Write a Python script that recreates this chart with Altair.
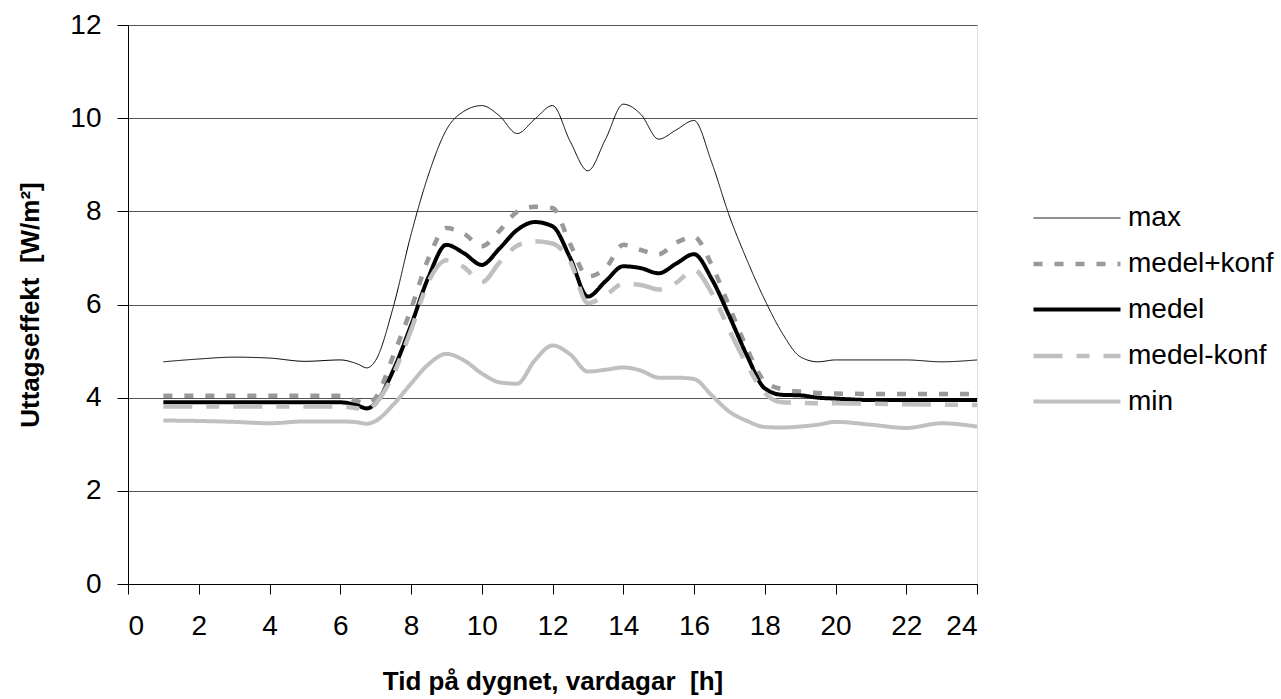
import altair as alt
import pandas as pd

HOURS = [1, 2, 3, 4, 5, 6, 6.5, 6.75, 7, 7.5, 8, 8.5, 9, 9.5, 10, 10.5, 11, 11.5,
         12, 12.5, 13, 13.5, 14, 14.5, 15, 15.5, 16, 16.5, 17, 17.5, 18, 18.5,
         19, 19.5, 20, 21, 22, 23, 24]

MAX = [4.77, 4.83, 4.87, 4.85, 4.78, 4.81, 4.72, 4.64, 4.80, 5.95, 7.50, 8.80, 9.75, 10.15,
       10.27, 10.05, 9.67, 9.98, 10.27, 9.50, 8.87, 9.55, 10.30, 10.08, 9.55, 9.75, 9.95, 9.05,
       7.90, 6.95, 6.10, 5.38, 4.88, 4.77, 4.81, 4.81, 4.81, 4.77, 4.81]

MEDEL_PLUS = [4.04, 4.04, 4.04, 4.04, 4.04, 4.04, 3.92, 3.88, 4.00, 4.90, 5.90, 7.00, 7.64, 7.52,
              7.25, 7.58, 7.99, 8.10, 8.07, 7.30, 6.60, 6.78, 7.28, 7.17, 7.08, 7.33, 7.45, 6.85,
              5.95, 5.05, 4.35, 4.18, 4.13, 4.10, 4.09, 4.08, 4.08, 4.08, 4.08]

MEDEL = [3.90, 3.90, 3.90, 3.90, 3.90, 3.90, 3.83, 3.77, 3.88, 4.59, 5.55, 6.60, 7.28, 7.10,
         6.85, 7.20, 7.60, 7.77, 7.68, 7.00, 6.17, 6.50, 6.82, 6.78, 6.67, 6.88, 7.08, 6.55,
         5.75, 4.90, 4.20, 4.06, 4.05, 4.00, 3.98, 3.95, 3.95, 3.95, 3.95]

MEDEL_MINUS = [3.81, 3.81, 3.81, 3.81, 3.81, 3.81, 3.77, 3.74, 3.88, 4.50, 5.45, 6.50, 6.95, 6.80,
               6.48, 6.90, 7.26, 7.36, 7.31, 6.92, 6.03, 6.20, 6.44, 6.42, 6.32, 6.47, 6.74, 6.25,
               5.45, 4.70, 4.10, 3.90, 3.89, 3.88, 3.88, 3.87, 3.86, 3.85, 3.84]

MIN = [3.51, 3.50, 3.48, 3.45, 3.49, 3.49, 3.47, 3.44, 3.50, 3.85, 4.30, 4.72, 4.94, 4.80,
       4.52, 4.33, 4.30, 4.80, 5.12, 4.93, 4.56, 4.60, 4.65, 4.58, 4.43, 4.43, 4.40, 4.05,
       3.70, 3.50, 3.37, 3.36, 3.38, 3.42, 3.48, 3.42, 3.35, 3.45, 3.38]

SERIES = ["max", "medel+konf", "medel", "medel-konf", "min"]
VALUES = [MAX, MEDEL_PLUS, MEDEL, MEDEL_MINUS, MIN]

rows = []
for name, vals in zip(SERIES, VALUES):
    for h, v in zip(HOURS, vals):
        rows.append({"h": h, "v": v, "serie": name})
df = pd.DataFrame(rows)

FONT = "Liberation Sans"
NB = "\u00a0"
COLORS = ["#000000", "#999999", "#000000", "#c0c0c0", "#c0c0c0"]
WIDTHS = [1, 4.5, 4, 4.5, 4]
DASHES = [[1, 0], [9, 12], [1, 0], [29, 14, 13, 14], [1, 0]]

leg = dict(title=None, orient="none", legendX=932, legendY=178, symbolType="M-3,0H3",
           symbolSize=841, labelFontSize=28, labelFont=FONT, labelColor="black",
           rowPadding=15, labelOffset=34, padding=0)

chart = alt.Chart(df).mark_line(interpolate="monotone").encode(
    x=alt.X("h:Q", title=f"Tid på dygnet, vardagar{NB}{NB}[h]",
            scale=alt.Scale(domain=[0, 24], nice=False, zero=False),
            axis=alt.Axis(values=list(range(0, 25, 2)), grid=False, tickSize=10,
                          tickColor="black", domainColor="black", labelFontSize=28,
                          labelFont=FONT, labelColor="black", labelPadding=18,
                          titleFont=FONT, titleFontSize=26, titleFontWeight="bold",
                          titleColor="black", titlePadding=28)),
    y=alt.Y("v:Q", title=f"Uttagseffekt{NB}{NB}[W/m²]",
            scale=alt.Scale(domain=[0, 12], nice=False),
            axis=alt.Axis(values=list(range(0, 13, 2)), grid=True, gridColor="#555555",
                          tickSize=11, tickColor="black", domainColor="black",
                          labelFontSize=28, labelFont=FONT, labelColor="black",
                          labelPadding=16, titleFont=FONT, titleFontSize=26,
                          titleFontWeight="bold", titleColor="black", titlePadding=26)),
    color=alt.Color("serie:N", scale=alt.Scale(domain=SERIES, range=COLORS),
                    sort=SERIES, legend=alt.Legend(**leg)),
    strokeWidth=alt.StrokeWidth("serie:N",
                                scale=alt.Scale(type="ordinal", domain=SERIES, range=WIDTHS),
                                sort=SERIES, legend=alt.Legend(**leg)),
    strokeDash=alt.StrokeDash("serie:N", scale=alt.Scale(domain=SERIES, range=DASHES),
                              sort=SERIES, legend=alt.Legend(**leg)),
    detail="serie:N",
).properties(
    width=849, height=559,
    autosize=alt.AutoSizeParams(type="none"),
    padding={"left": 128, "top": 25, "right": 304, "bottom": 115},
).configure_view(stroke="#888888", strokeWidth=1).configure(background="white")

chart.save("out.html", embed_options={"renderer": "svg", "actions": False})
